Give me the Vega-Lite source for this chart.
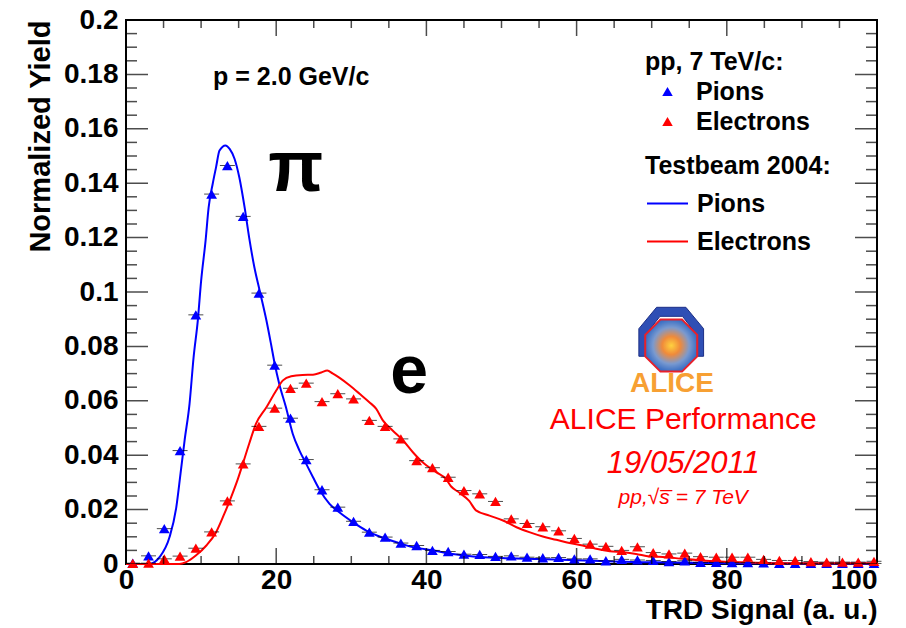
{
  "$schema": "https://vega.github.io/schema/vega-lite/v6.json",
  "width": 751,
  "height": 544,
  "autosize": "none",
  "padding": {"left": 126, "top": 20, "right": 29, "bottom": 64},
  "background": "white",
  "config": {
    "font": "Liberation Sans",
    "view": {"stroke": "black", "strokeWidth": 2}
  },
  "datasets": {
    "points": [
      {"signal": 0.9, "yield": 0.0003, "particle": "Pions"},
      {"signal": 3.0, "yield": 0.003, "particle": "Pions"},
      {"signal": 5.1, "yield": 0.013, "particle": "Pions"},
      {"signal": 7.2, "yield": 0.0417, "particle": "Pions"},
      {"signal": 9.3, "yield": 0.0916, "particle": "Pions"},
      {"signal": 11.4, "yield": 0.136, "particle": "Pions"},
      {"signal": 13.5, "yield": 0.1465, "particle": "Pions"},
      {"signal": 15.6, "yield": 0.1278, "particle": "Pions"},
      {"signal": 17.7, "yield": 0.0996, "particle": "Pions"},
      {"signal": 19.8, "yield": 0.0731, "particle": "Pions"},
      {"signal": 21.9, "yield": 0.0536, "particle": "Pions"},
      {"signal": 24.0, "yield": 0.0384, "particle": "Pions"},
      {"signal": 26.1, "yield": 0.0273, "particle": "Pions"},
      {"signal": 28.2, "yield": 0.0209, "particle": "Pions"},
      {"signal": 30.3, "yield": 0.0157, "particle": "Pions"},
      {"signal": 32.4, "yield": 0.0117, "particle": "Pions"},
      {"signal": 34.5, "yield": 0.0099, "particle": "Pions"},
      {"signal": 36.6, "yield": 0.0077, "particle": "Pions"},
      {"signal": 38.7, "yield": 0.0068, "particle": "Pions"},
      {"signal": 40.8, "yield": 0.005, "particle": "Pions"},
      {"signal": 42.9, "yield": 0.0046, "particle": "Pions"},
      {"signal": 45.0, "yield": 0.0036, "particle": "Pions"},
      {"signal": 47.1, "yield": 0.0035, "particle": "Pions"},
      {"signal": 49.2, "yield": 0.0028, "particle": "Pions"},
      {"signal": 51.3, "yield": 0.003, "particle": "Pions"},
      {"signal": 53.4, "yield": 0.0025, "particle": "Pions"},
      {"signal": 55.5, "yield": 0.0023, "particle": "Pions"},
      {"signal": 57.6, "yield": 0.0024, "particle": "Pions"},
      {"signal": 59.7, "yield": 0.0019, "particle": "Pions"},
      {"signal": 61.8, "yield": 0.0019, "particle": "Pions"},
      {"signal": 63.9, "yield": 0.0012, "particle": "Pions"},
      {"signal": 66.0, "yield": 0.0017, "particle": "Pions"},
      {"signal": 68.1, "yield": 0.0015, "particle": "Pions"},
      {"signal": 70.2, "yield": 0.0013, "particle": "Pions"},
      {"signal": 72.3, "yield": 0.0009, "particle": "Pions"},
      {"signal": 74.4, "yield": 0.0012, "particle": "Pions"},
      {"signal": 76.5, "yield": 0.0006, "particle": "Pions"},
      {"signal": 78.6, "yield": 0.0006, "particle": "Pions"},
      {"signal": 80.7, "yield": 0.0005, "particle": "Pions"},
      {"signal": 82.8, "yield": 0.0005, "particle": "Pions"},
      {"signal": 84.9, "yield": 0.0004, "particle": "Pions"},
      {"signal": 87.0, "yield": 0.0002, "particle": "Pions"},
      {"signal": 89.1, "yield": 0.0002, "particle": "Pions"},
      {"signal": 91.2, "yield": 0.0002, "particle": "Pions"},
      {"signal": 93.3, "yield": 0.0002, "particle": "Pions"},
      {"signal": 95.4, "yield": 0.0002, "particle": "Pions"},
      {"signal": 97.5, "yield": 0.0002, "particle": "Pions"},
      {"signal": 99.6, "yield": 0.0002, "particle": "Pions"},
      {"signal": 0.9, "yield": 0.0002, "particle": "Electrons"},
      {"signal": 3.0, "yield": 0.0003, "particle": "Electrons"},
      {"signal": 5.1, "yield": 0.0019, "particle": "Electrons"},
      {"signal": 7.2, "yield": 0.0029, "particle": "Electrons"},
      {"signal": 9.3, "yield": 0.0058, "particle": "Electrons"},
      {"signal": 11.4, "yield": 0.0118, "particle": "Electrons"},
      {"signal": 13.5, "yield": 0.0232, "particle": "Electrons"},
      {"signal": 15.6, "yield": 0.0368, "particle": "Electrons"},
      {"signal": 17.7, "yield": 0.0506, "particle": "Electrons"},
      {"signal": 19.8, "yield": 0.0573, "particle": "Electrons"},
      {"signal": 21.9, "yield": 0.0646, "particle": "Electrons"},
      {"signal": 24.0, "yield": 0.0665, "particle": "Electrons"},
      {"signal": 26.1, "yield": 0.0597, "particle": "Electrons"},
      {"signal": 28.2, "yield": 0.0626, "particle": "Electrons"},
      {"signal": 30.3, "yield": 0.0607, "particle": "Electrons"},
      {"signal": 32.4, "yield": 0.0528, "particle": "Electrons"},
      {"signal": 34.5, "yield": 0.0506, "particle": "Electrons"},
      {"signal": 36.6, "yield": 0.046, "particle": "Electrons"},
      {"signal": 38.7, "yield": 0.038, "particle": "Electrons"},
      {"signal": 40.8, "yield": 0.0354, "particle": "Electrons"},
      {"signal": 42.9, "yield": 0.0319, "particle": "Electrons"},
      {"signal": 45.0, "yield": 0.027, "particle": "Electrons"},
      {"signal": 47.1, "yield": 0.0258, "particle": "Electrons"},
      {"signal": 49.2, "yield": 0.023, "particle": "Electrons"},
      {"signal": 51.3, "yield": 0.0166, "particle": "Electrons"},
      {"signal": 53.4, "yield": 0.0149, "particle": "Electrons"},
      {"signal": 55.5, "yield": 0.0137, "particle": "Electrons"},
      {"signal": 57.6, "yield": 0.0122, "particle": "Electrons"},
      {"signal": 59.7, "yield": 0.0094, "particle": "Electrons"},
      {"signal": 61.8, "yield": 0.0073, "particle": "Electrons"},
      {"signal": 63.9, "yield": 0.0065, "particle": "Electrons"},
      {"signal": 66.0, "yield": 0.005, "particle": "Electrons"},
      {"signal": 68.1, "yield": 0.0063, "particle": "Electrons"},
      {"signal": 70.2, "yield": 0.0042, "particle": "Electrons"},
      {"signal": 72.3, "yield": 0.0037, "particle": "Electrons"},
      {"signal": 74.4, "yield": 0.004, "particle": "Electrons"},
      {"signal": 76.5, "yield": 0.0027, "particle": "Electrons"},
      {"signal": 78.6, "yield": 0.0025, "particle": "Electrons"},
      {"signal": 80.7, "yield": 0.0025, "particle": "Electrons"},
      {"signal": 82.8, "yield": 0.0025, "particle": "Electrons"},
      {"signal": 84.9, "yield": 0.0017, "particle": "Electrons"},
      {"signal": 87.0, "yield": 0.0013, "particle": "Electrons"},
      {"signal": 89.1, "yield": 0.0013, "particle": "Electrons"},
      {"signal": 91.2, "yield": 0.0009, "particle": "Electrons"},
      {"signal": 93.3, "yield": 0.0007, "particle": "Electrons"},
      {"signal": 95.4, "yield": 0.0007, "particle": "Electrons"},
      {"signal": 97.5, "yield": 0.0007, "particle": "Electrons"},
      {"signal": 99.6, "yield": 0.001, "particle": "Electrons"}
    ],
    "testbeam": [
      {"signal": 0, "yield": 0, "particle": "Pions"},
      {"signal": 3.1, "yield": 0, "particle": "Pions"},
      {"signal": 4.46, "yield": 0.0025, "particle": "Pions"},
      {"signal": 5.8, "yield": 0.0099, "particle": "Pions"},
      {"signal": 6.7, "yield": 0.0209, "particle": "Pions"},
      {"signal": 7.26, "yield": 0.0332, "particle": "Pions"},
      {"signal": 7.8, "yield": 0.0454, "particle": "Pions"},
      {"signal": 8.46, "yield": 0.0589, "particle": "Pions"},
      {"signal": 9.0, "yield": 0.076, "particle": "Pions"},
      {"signal": 9.56, "yield": 0.0895, "particle": "Pions"},
      {"signal": 10.0, "yield": 0.104, "particle": "Pions"},
      {"signal": 10.6, "yield": 0.119, "particle": "Pions"},
      {"signal": 11.0, "yield": 0.131, "particle": "Pions"},
      {"signal": 11.56, "yield": 0.14, "particle": "Pions"},
      {"signal": 12.0, "yield": 0.146, "particle": "Pions"},
      {"signal": 12.45, "yield": 0.152, "particle": "Pions"},
      {"signal": 13.25, "yield": 0.1539, "particle": "Pions"},
      {"signal": 13.8, "yield": 0.1526, "particle": "Pions"},
      {"signal": 14.45, "yield": 0.149, "particle": "Pions"},
      {"signal": 15.1, "yield": 0.142, "particle": "Pions"},
      {"signal": 15.8, "yield": 0.131, "particle": "Pions"},
      {"signal": 16.4, "yield": 0.12, "particle": "Pions"},
      {"signal": 17.1, "yield": 0.109, "particle": "Pions"},
      {"signal": 17.8, "yield": 0.1005, "particle": "Pions"},
      {"signal": 18.7, "yield": 0.0895, "particle": "Pions"},
      {"signal": 19.3, "yield": 0.081, "particle": "Pions"},
      {"signal": 19.8, "yield": 0.0736, "particle": "Pions"},
      {"signal": 20.4, "yield": 0.0663, "particle": "Pions"},
      {"signal": 21.3, "yield": 0.0576, "particle": "Pions"},
      {"signal": 22.2, "yield": 0.0479, "particle": "Pions"},
      {"signal": 23.1, "yield": 0.0417, "particle": "Pions"},
      {"signal": 24.0, "yield": 0.0368, "particle": "Pions"},
      {"signal": 24.9, "yield": 0.0319, "particle": "Pions"},
      {"signal": 25.8, "yield": 0.0272, "particle": "Pions"},
      {"signal": 27.1, "yield": 0.0221, "particle": "Pions"},
      {"signal": 28.4, "yield": 0.019, "particle": "Pions"},
      {"signal": 30.2, "yield": 0.0154, "particle": "Pions"},
      {"signal": 32.0, "yield": 0.0123, "particle": "Pions"},
      {"signal": 33.75, "yield": 0.0101, "particle": "Pions"},
      {"signal": 36.0, "yield": 0.008, "particle": "Pions"},
      {"signal": 38.2, "yield": 0.0062, "particle": "Pions"},
      {"signal": 40.9, "yield": 0.005, "particle": "Pions"},
      {"signal": 43.5, "yield": 0.0037, "particle": "Pions"},
      {"signal": 46.2, "yield": 0.0028, "particle": "Pions"},
      {"signal": 50.0, "yield": 0.0022, "particle": "Pions"},
      {"signal": 55.0, "yield": 0.0018, "particle": "Pions"},
      {"signal": 60.0, "yield": 0.0014, "particle": "Pions"},
      {"signal": 65.0, "yield": 0.0009, "particle": "Pions"},
      {"signal": 70.0, "yield": 0.0006, "particle": "Pions"},
      {"signal": 80.0, "yield": 0.0003, "particle": "Pions"},
      {"signal": 90.0, "yield": 0.0002, "particle": "Pions"},
      {"signal": 100.0, "yield": 0.0001, "particle": "Pions"},
      {"signal": 0, "yield": 0, "particle": "Electrons"},
      {"signal": 7.1, "yield": 0, "particle": "Electrons"},
      {"signal": 8.0, "yield": 0.0007, "particle": "Electrons"},
      {"signal": 9.3, "yield": 0.0031, "particle": "Electrons"},
      {"signal": 10.7, "yield": 0.0068, "particle": "Electrons"},
      {"signal": 12.0, "yield": 0.0117, "particle": "Electrons"},
      {"signal": 13.1, "yield": 0.0185, "particle": "Electrons"},
      {"signal": 14.0, "yield": 0.0246, "particle": "Electrons"},
      {"signal": 14.9, "yield": 0.0313, "particle": "Electrons"},
      {"signal": 15.55, "yield": 0.0368, "particle": "Electrons"},
      {"signal": 16.4, "yield": 0.0442, "particle": "Electrons"},
      {"signal": 17.3, "yield": 0.0515, "particle": "Electrons"},
      {"signal": 18.7, "yield": 0.0576, "particle": "Electrons"},
      {"signal": 20.0, "yield": 0.0638, "particle": "Electrons"},
      {"signal": 20.9, "yield": 0.0675, "particle": "Electrons"},
      {"signal": 22.0, "yield": 0.069, "particle": "Electrons"},
      {"signal": 23.5, "yield": 0.0695, "particle": "Electrons"},
      {"signal": 24.9, "yield": 0.0696, "particle": "Electrons"},
      {"signal": 26.0, "yield": 0.0704, "particle": "Electrons"},
      {"signal": 26.8, "yield": 0.0711, "particle": "Electrons"},
      {"signal": 27.5, "yield": 0.0701, "particle": "Electrons"},
      {"signal": 28.4, "yield": 0.0685, "particle": "Electrons"},
      {"signal": 29.8, "yield": 0.0656, "particle": "Electrons"},
      {"signal": 31.1, "yield": 0.0626, "particle": "Electrons"},
      {"signal": 32.4, "yield": 0.0595, "particle": "Electrons"},
      {"signal": 33.3, "yield": 0.0571, "particle": "Electrons"},
      {"signal": 34.2, "yield": 0.0528, "particle": "Electrons"},
      {"signal": 35.5, "yield": 0.0491, "particle": "Electrons"},
      {"signal": 36.9, "yield": 0.0454, "particle": "Electrons"},
      {"signal": 38.2, "yield": 0.0411, "particle": "Electrons"},
      {"signal": 39.5, "yield": 0.0374, "particle": "Electrons"},
      {"signal": 41.3, "yield": 0.0338, "particle": "Electrons"},
      {"signal": 42.6, "yield": 0.0313, "particle": "Electrons"},
      {"signal": 43.3, "yield": 0.0285, "particle": "Electrons"},
      {"signal": 44.4, "yield": 0.0262, "particle": "Electrons"},
      {"signal": 45.7, "yield": 0.0232, "particle": "Electrons"},
      {"signal": 46.6, "yield": 0.0197, "particle": "Electrons"},
      {"signal": 48.4, "yield": 0.0178, "particle": "Electrons"},
      {"signal": 50.2, "yield": 0.016, "particle": "Electrons"},
      {"signal": 52.0, "yield": 0.0135, "particle": "Electrons"},
      {"signal": 53.7, "yield": 0.0117, "particle": "Electrons"},
      {"signal": 55.5, "yield": 0.0101, "particle": "Electrons"},
      {"signal": 57.3, "yield": 0.0089, "particle": "Electrons"},
      {"signal": 59.05, "yield": 0.0077, "particle": "Electrons"},
      {"signal": 60.8, "yield": 0.0068, "particle": "Electrons"},
      {"signal": 62.6, "yield": 0.0056, "particle": "Electrons"},
      {"signal": 64.4, "yield": 0.0047, "particle": "Electrons"},
      {"signal": 66.2, "yield": 0.0043, "particle": "Electrons"},
      {"signal": 67.9, "yield": 0.0037, "particle": "Electrons"},
      {"signal": 69.7, "yield": 0.0028, "particle": "Electrons"},
      {"signal": 71.9, "yield": 0.0025, "particle": "Electrons"},
      {"signal": 74.1, "yield": 0.0019, "particle": "Electrons"},
      {"signal": 76.8, "yield": 0.0013, "particle": "Electrons"},
      {"signal": 80.8, "yield": 0.0007, "particle": "Electrons"},
      {"signal": 87.5, "yield": 0.0003, "particle": "Electrons"},
      {"signal": 100.0, "yield": 0.0003, "particle": "Electrons"}
    ],
    "xMajor": [{"v": 0}, {"v": 20}, {"v": 40}, {"v": 60}, {"v": 80}, {"v": 100}],
    "xMinor": [{"v": 5}, {"v": 10}, {"v": 15}, {"v": 25}, {"v": 30}, {"v": 35}, {"v": 45}, {"v": 50}, {"v": 55}, {"v": 65}, {"v": 70}, {"v": 75}, {"v": 85}, {"v": 90}, {"v": 95}],
    "yMajor": [{"v": 0}, {"v": 0.02}, {"v": 0.04}, {"v": 0.06}, {"v": 0.08}, {"v": 0.1}, {"v": 0.12}, {"v": 0.14}, {"v": 0.16}, {"v": 0.18}, {"v": 0.2}],
    "yMinor": [{"v": 0.005}, {"v": 0.01}, {"v": 0.015}, {"v": 0.025}, {"v": 0.03}, {"v": 0.035}, {"v": 0.045}, {"v": 0.05}, {"v": 0.055}, {"v": 0.065}, {"v": 0.07}, {"v": 0.075}, {"v": 0.085}, {"v": 0.09}, {"v": 0.095}, {"v": 0.105}, {"v": 0.11}, {"v": 0.115}, {"v": 0.125}, {"v": 0.13}, {"v": 0.135}, {"v": 0.145}, {"v": 0.15}, {"v": 0.155}, {"v": 0.165}, {"v": 0.17}, {"v": 0.175}, {"v": 0.185}, {"v": 0.19}, {"v": 0.195}]
  },
  "layer": [
    {
      "data": {"name": "testbeam"},
      "mark": {"type": "line", "strokeWidth": 2, "interpolate": "monotone"},
      "encoding": {
        "x": {
          "field": "signal", "type": "quantitative",
          "scale": {"domain": [0, 100], "nice": false, "zero": false},
          "axis": {
            "values": [0, 20, 40, 60, 80, 100],
            "ticks": false, "domain": false, "grid": false,
            "labelFont": "Liberation Sans", "labelFontWeight": "bold", "labelFontSize": 28,
            "labelColor": "black", "labelPadding": 2, "labelFlush": false,
            "labelAlign": {"condition": {"test": "datum.value == 100", "value": "right"}, "value": "center"},
            "title": "TRD Signal (a. u.)", "titleAnchor": "end",
            "titleFont": "Liberation Sans", "titleFontWeight": "bold", "titleFontSize": 28,
            "titleColor": "black", "titlePadding": 2
          }
        },
        "y": {
          "field": "yield", "type": "quantitative",
          "scale": {"domain": [0, 0.2], "nice": false, "zero": false},
          "axis": {
            "values": [0, 0.02, 0.04, 0.06, 0.08, 0.1, 0.12, 0.14, 0.16, 0.18, 0.2],
            "format": ".2~f",
            "ticks": false, "domain": false, "grid": false,
            "labelFont": "Liberation Sans", "labelFontWeight": "bold", "labelFontSize": 28,
            "labelColor": "black", "labelPadding": 8, "labelFlush": false,
            "title": "Normalized Yield", "titleAnchor": "end",
            "titleFont": "Liberation Sans", "titleFontWeight": "bold", "titleFontSize": 29,
            "titleColor": "black", "titlePadding": 8
          }
        },
        "stroke": {
          "field": "particle", "type": "nominal", "sort": "descending",
          "scale": {"range": ["#0000ff", "#ff0000"]},
          "legend": {
            "title": "Testbeam 2004:", "orient": "none", "legendX": 519, "legendY": 134,
            "padding": 0, "symbolType": "stroke", "symbolSize": 1681, "symbolStrokeWidth": 2,
            "symbolOffset": 1, "labelOffset": 8, "rowPadding": 3, "titlePadding": 3, "titleLimit": 400,
            "titleFont": "Liberation Sans", "titleFontSize": 25, "titleFontWeight": "bold", "titleColor": "black",
            "labelFont": "Liberation Sans", "labelFontSize": 25, "labelFontWeight": "bold", "labelColor": "black"
          }
        }
      }
    },
    {
      "data": {"name": "points"},
      "mark": {"type": "tick", "orient": "horizontal", "size": 15, "thickness": 1, "color": "black"},
      "encoding": {
        "x": {"field": "signal", "type": "quantitative"},
        "y": {"field": "yield", "type": "quantitative"}
      }
    },
    {
      "data": {"name": "points"},
      "mark": {"type": "point", "shape": "triangle-up", "filled": true, "size": 115, "opacity": 1, "strokeWidth": 0},
      "encoding": {
        "x": {"field": "signal", "type": "quantitative"},
        "y": {"field": "yield", "type": "quantitative"},
        "fill": {
          "field": "particle", "type": "nominal", "sort": "descending",
          "scale": {"range": ["#0000ff", "#ff0000"]},
          "legend": {
            "title": "pp, 7 TeV/c:", "orient": "none", "legendX": 519, "legendY": 30,
            "padding": 0, "symbolType": "triangle-up", "symbolSize": 110, "symbolStrokeWidth": 0,
            "symbolOffset": 10, "labelOffset": 16, "rowPadding": 4, "titlePadding": 4, "titleLimit": 400,
            "titleFont": "Liberation Sans", "titleFontSize": 25, "titleFontWeight": "bold", "titleColor": "black",
            "labelFont": "Liberation Sans", "labelFontSize": 25, "labelFontWeight": "bold", "labelColor": "black"
          }
        }
      }
    },
    {
      "data": {"name": "xMajor"},
      "mark": {"type": "tick", "orient": "vertical", "size": 32, "thickness": 1.5, "color": "black", "clip": true},
      "encoding": {"x": {"field": "v", "type": "quantitative"}, "y": {"datum": 0}}
    },
    {
      "data": {"name": "xMajor"},
      "mark": {"type": "tick", "orient": "vertical", "size": 32, "thickness": 1.5, "color": "black", "clip": true},
      "encoding": {"x": {"field": "v", "type": "quantitative"}, "y": {"datum": 0.2}}
    },
    {
      "data": {"name": "xMinor"},
      "mark": {"type": "tick", "orient": "vertical", "size": 16, "thickness": 1.5, "color": "black", "clip": true},
      "encoding": {"x": {"field": "v", "type": "quantitative"}, "y": {"datum": 0}}
    },
    {
      "data": {"name": "xMinor"},
      "mark": {"type": "tick", "orient": "vertical", "size": 16, "thickness": 1.5, "color": "black", "clip": true},
      "encoding": {"x": {"field": "v", "type": "quantitative"}, "y": {"datum": 0.2}}
    },
    {
      "data": {"name": "yMajor"},
      "mark": {"type": "tick", "orient": "horizontal", "size": 44, "thickness": 1.5, "color": "black", "clip": true},
      "encoding": {"y": {"field": "v", "type": "quantitative"}, "x": {"datum": 0}}
    },
    {
      "data": {"name": "yMajor"},
      "mark": {"type": "tick", "orient": "horizontal", "size": 44, "thickness": 1.5, "color": "black", "clip": true},
      "encoding": {"y": {"field": "v", "type": "quantitative"}, "x": {"datum": 100}}
    },
    {
      "data": {"name": "yMinor"},
      "mark": {"type": "tick", "orient": "horizontal", "size": 22, "thickness": 1.5, "color": "black", "clip": true},
      "encoding": {"y": {"field": "v", "type": "quantitative"}, "x": {"datum": 0}}
    },
    {
      "data": {"name": "yMinor"},
      "mark": {"type": "tick", "orient": "horizontal", "size": 22, "thickness": 1.5, "color": "black", "clip": true},
      "encoding": {"y": {"field": "v", "type": "quantitative"}, "x": {"datum": 100}}
    },
    {
      "data": {"values": [{"label": "p = 2.0 GeV/c"}]},
      "mark": {"type": "text", "font": "Liberation Sans", "fontWeight": "bold", "fontSize": 25, "color": "black", "align": "center", "baseline": "middle"},
      "encoding": {"text": {"field": "label"}, "x": {"datum": 22.0}, "y": {"datum": 0.1792}}
    },
    {
      "data": {"values": [{"label": "π"}]},
      "mark": {"type": "text", "font": "Liberation Sans", "fontWeight": "bold", "fontSize": 72, "color": "black", "align": "center", "baseline": "middle"},
      "encoding": {"text": {"field": "label"}, "x": {"datum": 22.6}, "y": {"datum": 0.1454}}
    },
    {
      "data": {"values": [{"label": "e"}]},
      "mark": {"type": "text", "font": "Liberation Sans", "fontWeight": "bold", "fontSize": 68, "color": "black", "align": "center", "baseline": "middle"},
      "encoding": {"text": {"field": "label"}, "x": {"datum": 37.7}, "y": {"datum": 0.0704}}
    },
    {
      "data": {"values": [{"label": "logo"}]},
      "mark": {"type": "point", "filled": true, "size": 3168, "color": "#2f4fb5", "stroke": "#1d2f86", "strokeWidth": 1, "opacity": 1,
        "shape": "M -1.15 0.38 L -1.15 -0.6 L -0.52 -1.36 L 0.52 -1.36 L 1.15 -0.6 L 1.15 0.38 L 0.85 0.38 L 0.85 -0.46 L 0.4 -1.04 L -0.4 -1.04 L -0.85 -0.46 L -0.85 0.38 Z"},
      "encoding": {"x": {"datum": 72.6}, "y": {"datum": 0.0803}}
    },
    {
      "data": {"values": [{"label": "logo"}]},
      "mark": {"type": "point", "filled": true, "size": 3168, "stroke": "#e8202a", "strokeWidth": 2, "opacity": 1,
        "fill": {"gradient": "radial", "stops": [{"offset": 0, "color": "#ffd23f"}, {"offset": 0.35, "color": "#f08a3a"}, {"offset": 0.7, "color": "#7a9ad0"}, {"offset": 1, "color": "#3a6fc4"}]},
        "shape": "M -0.383 -0.924 L 0.383 -0.924 L 0.924 -0.383 L 0.924 0.383 L 0.383 0.924 L -0.383 0.924 L -0.924 0.383 L -0.924 -0.383 Z"},
      "encoding": {"x": {"datum": 72.6}, "y": {"datum": 0.0803}}
    },
    {
      "data": {"values": [{"label": "ALICE"}]},
      "mark": {"type": "text", "font": "Liberation Sans", "fontWeight": "bold", "fontSize": 28, "color": "#f7a033", "align": "center", "baseline": "middle"},
      "encoding": {"text": {"field": "label"}, "x": {"datum": 72.7}, "y": {"datum": 0.0662}}
    },
    {
      "data": {"values": [{"label": "ALICE Performance"}]},
      "mark": {"type": "text", "font": "Liberation Sans", "fontSize": 30, "color": "#ff0000", "align": "center", "baseline": "middle"},
      "encoding": {"text": {"field": "label"}, "x": {"datum": 74.2}, "y": {"datum": 0.0528}}
    },
    {
      "data": {"values": [{"label": "19/05/2011"}]},
      "mark": {"type": "text", "font": "Liberation Sans", "fontStyle": "italic", "fontSize": 31, "color": "#ff0000", "align": "center", "baseline": "middle"},
      "encoding": {"text": {"field": "label"}, "x": {"datum": 74.2}, "y": {"datum": 0.0369}}
    },
    {
      "data": {"values": [{"label": "pp,√s̅ = 7 TeV"}]},
      "mark": {"type": "text", "font": "Liberation Sans", "fontStyle": "italic", "fontSize": 21, "color": "#ff0000", "align": "center", "baseline": "middle"},
      "encoding": {"text": {"field": "label"}, "x": {"datum": 74.2}, "y": {"datum": 0.0244}}
    }
  ]
}
